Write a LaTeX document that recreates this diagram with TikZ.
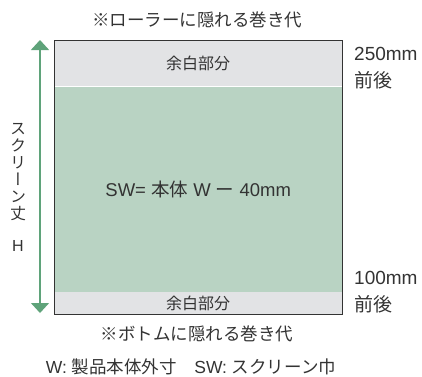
\documentclass[tikz,border=0pt]{standalone}
\usepackage{fontspec}
\setmainfont{Liberation Sans}
\newfontfamily\jp{Noto Sans CJK JP}
\newfontfamily\jpvert[RawFeature=+vert]{Noto Sans CJK JP}
\usetikzlibrary{arrows.meta,positioning}
\definecolor{inkgrey}{HTML}{333333}
\definecolor{margingrey}{HTML}{E2E3E5}
\definecolor{screengreen}{HTML}{B9D3C3}
\definecolor{arrowgreen}{HTML}{5FA37A}

\begin{document}
\begin{tikzpicture}[x=1pt, y=-1pt,
band/.style={inner sep=0pt, minimum width=288pt, text=inkgrey, font=\jp\fontsize{16}{19}\selectfont},
caption/.style={inner sep=0pt, text=inkgrey, font=\jp\fontsize{17.5}{20}\selectfont},
sidelabel/.style={inner sep=0pt, anchor=west, align=left, text=inkgrey, font=\fontsize{19}{27}\selectfont},
dimarrow/.style={{Triangle[width=18pt,length=10pt]}-{Triangle[width=18pt,length=10pt]}, line width=1.4pt, draw=arrowgreen, fill=arrowgreen}
]
\useasboundingbox (0,0) rectangle (422,376);
% screen with its two margins
\node[band, fill=margingrey, minimum height=46pt, anchor=north west] (topmargin) at (54,40) {余白部分};
\node[band, fill=screengreen, minimum height=205pt, anchor=north west, font=\fontsize{18.5}{20}\selectfont] (screen) at (topmargin.south west) {SW= {\jp 本体} W {\jp ー} 40mm};
\node[band, fill=margingrey, minimum height=22pt, anchor=north west] (botmargin) at (screen.south west) {余白部分};
\draw[inkgrey, line width=0.9pt] (topmargin.north west) rectangle (botmargin.south east);
% height dimension
\coordinate (htop) at (40,40);
\coordinate (hbot) at (40,313);
\draw[dimarrow] (htop) -- (hbot);
\node[inner sep=0pt, align=center, text=inkgrey, font=\jpvert\fontsize{16}{17}\selectfont] (heightlabel) at (18,187) {ス\\ク\\リ\\ー\\ン\\丈\\[15pt]{\rmfamily H}};
% notes
\node[caption] (rollercap) at (197,20) {※ローラーに隠れる巻き代};
\node[caption] (bottomcap) at (197,334) {※ボトムに隠れる巻き代};
\node[sidelabel] (topnote) at (354,68) {250mm\\{\jp 前後}};
\node[sidelabel] (botnote) at (354,292) {100mm\\{\jp 前後}};
\node[caption, font=\fontsize{17.5}{20}\selectfont] (legend) at (191,367) {W: {\jp 製品本体外寸　}SW: {\jp スクリーン巾}};
\end{tikzpicture}
\end{document}
